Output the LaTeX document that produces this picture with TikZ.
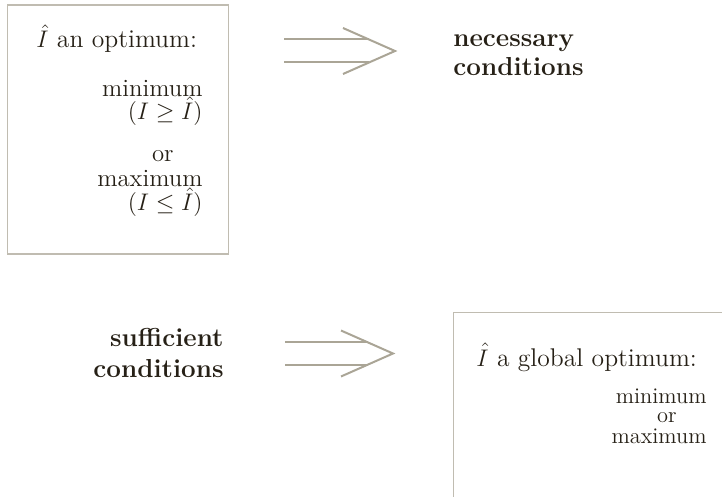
\documentclass[tikz,border=0pt]{standalone}
\usepackage{amsmath,amssymb}
\usetikzlibrary{calc}
\definecolor{boxgray}{RGB}{192,188,177}
\definecolor{arrowgray}{RGB}{170,165,150}
\definecolor{inkdark}{RGB}{38,32,22}
\tikzset{
  panel/.style={draw=boxgray, line width=0.75pt, inner sep=0pt, anchor=north west},
  implarrow/.style={draw=arrowgray, line width=1pt},
  ttl/.style={inner sep=0pt, text=inkdark, font=\fontsize{12.8}{15}\selectfont},
  entry/.style={inner sep=0pt, text=inkdark, font=\fontsize{12.4}{15}\selectfont},
  smallentry/.style={inner sep=0pt, text=inkdark, font=\fontsize{11.2}{13}\selectfont},
  cond/.style={inner sep=0pt, text=inkdark, font=\fontsize{13}{16}\selectfont\bfseries},
}
\begin{document}
\begin{tikzpicture}[x=0.5pt,y=-0.5pt]
  \useasboundingbox (0,0) rectangle (722,497);

  % Optimum box (top left)
  \node[panel, minimum width=110.5pt, minimum height=124.25pt] (optbox) at (6.5,4.5) {};
  \node[ttl, anchor=base west] (opttitle) at (36,48) {$\hat{I}$ an optimum:};
  \node[entry, anchor=base east] (optmin) at (203,97) {minimum};
  \node[entry, anchor=base east] (optge) at (203,120) {$(I \geq \hat{I})$};
  \node[entry, anchor=base east] (optor) at (174,162) {or};
  \node[entry, anchor=base east] (optmax) at (203,187) {maximum};
  \node[entry, anchor=base east] (optle) at (203,211) {$(I \leq \hat{I})$};

  % Necessary conditions (top right)
  \node[cond, anchor=base west] (necA) at (453,47) {necessary};
  \node[cond, anchor=base west] (necB) at (453,76) {conditions};

  % Sufficient conditions (bottom left)
  \node[cond, anchor=base east] (sufA) at (224,346) {sufficient};
  \node[cond, anchor=base east] (sufB) at (224,377) {conditions};

  % Global optimum box (bottom right, runs off the page)
  \node[panel, minimum width=220pt, minimum height=150pt] (globbox) at (452.5,311.5) {};
  \node[ttl, anchor=base west] (globtitle) at (476,366) {$\hat{I}$ a global optimum:};
  \node[smallentry, anchor=base east] (globmin) at (707,403) {minimum};
  \node[smallentry, anchor=base east] (globor) at (677,422) {or};
  \node[smallentry, anchor=base east] (globmax) at (707,443) {maximum};

  % Implication arrows
  \coordinate (topS) at (284,51);
  \coordinate (topE) at (395,51);
  \coordinate (botS) at (285,353.5);
  \coordinate (botE) at (393,353.5);
  \foreach \nm in {top,bot}{
    \draw[implarrow] ($(\nm S)+(0,-11.5)$) -- ($(\nm E)+(-26,-11.5)$);
    \draw[implarrow] ($(\nm S)+(0,11.5)$) -- ($(\nm E)+(-26,11.5)$);
    \draw[implarrow] ($(\nm E)+(-52,-23)$) -- (\nm E) -- ($(\nm E)+(-52,23)$);
  }
\end{tikzpicture}
\end{document}
